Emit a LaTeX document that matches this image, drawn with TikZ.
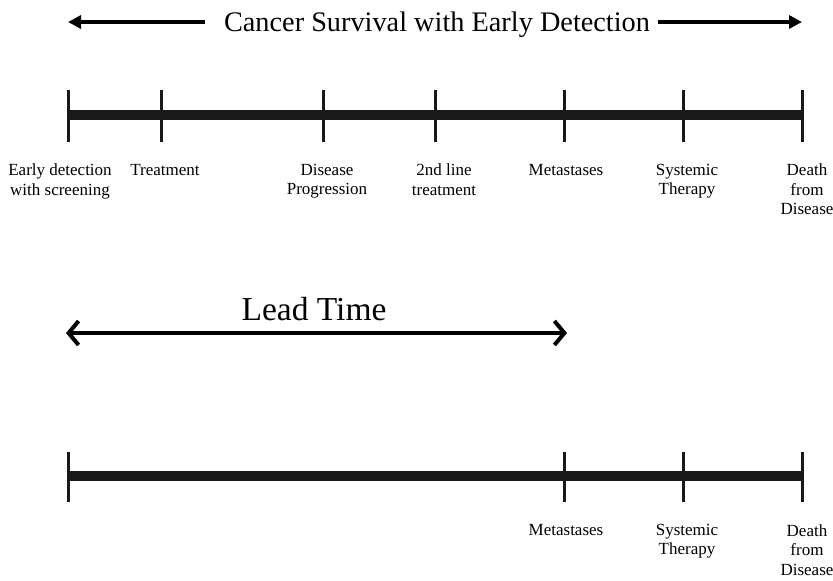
\documentclass[tikz,border=0pt]{standalone}
\usepackage{fontspec}
\setmainfont{Liberation Serif}
\usetikzlibrary{arrows.meta}
\begin{document}
\begin{tikzpicture}[x=1pt,y=-1pt,
  axisline/.style={line width=10pt,color=black!90},
  tickline/.style={line width=3pt,color=black!90},
  lbl/.style={anchor=north,inner sep=0pt,align=center,font=\fontsize{17}{19.5}\selectfont},
  titlearrow/.style={line width=3.5pt,-{Triangle[length=13pt,width=13pt]}},
  leadarrow/.style={line width=4pt,{Straight Barb[length=10pt,width=24pt,line width=4pt]}-{Straight Barb[length=10pt,width=24pt,line width=4pt]}}]
\useasboundingbox (0,0) rectangle (833,581);
% title
\node[inner sep=0pt,anchor=base,font=\fontsize{28.3}{30}\selectfont] (title) at (437,31) {Cancer Survival with Early Detection};
\coordinate (tl) at (68,22);
\coordinate (tr) at (802,22);
\coordinate (tls) at (205,22);
\coordinate (trs) at (658,22);
\draw[titlearrow] (tls) -- (tl);
\draw[titlearrow] (trs) -- (tr);
% top timeline
\foreach \n/\x in {1/68,2/161,3/323,4/435,5/564,6/683,7/802} {
  \coordinate (a\n) at (\x,115);
  \coordinate (a\n u) at (\x,90);
  \coordinate (a\n d) at (\x,142);
}
\draw[axisline] (a1) -- (a7);
\foreach \n in {1,...,7} { \draw[tickline] (a\n u) -- (a\n d); }
\node[lbl] (l1) at (60,164) {Early detection\\with screening};
\node[lbl] (l2) at (165,164) {Treatment};
\node[lbl] (l3) at (327,164) {Disease\\Progression};
\node[lbl] (l4) at (444,164) {2nd line\\treatment};
\node[lbl] (l5) at (566,164) {Metastases};
\node[lbl] (l6) at (687,164) {Systemic\\Therapy};
\node[lbl] (l7) at (807,164) {Death\\from\\Disease};
% lead time
\node[inner sep=0pt,anchor=base,font=\fontsize{33.5}{34}\selectfont] (lead) at (314,320) {Lead Time};
\coordinate (ls) at (66,333);
\coordinate (le) at (567,333);
\draw[leadarrow] (ls) -- (le);
% bottom timeline
\foreach \n/\x in {1/68,2/564,3/683,4/802} {
  \coordinate (b\n) at (\x,476);
  \coordinate (b\n u) at (\x,452);
  \coordinate (b\n d) at (\x,502);
}
\draw[axisline] (b1) -- (b4);
\foreach \n in {1,...,4} { \draw[tickline] (b\n u) -- (b\n d); }
\node[lbl] (m2) at (566,524) {Metastases};
\node[lbl] (m3) at (687,524) {Systemic\\Therapy};
\node[lbl] (m4) at (807,524) {Death\\from\\Disease};
\end{tikzpicture}
\end{document}
